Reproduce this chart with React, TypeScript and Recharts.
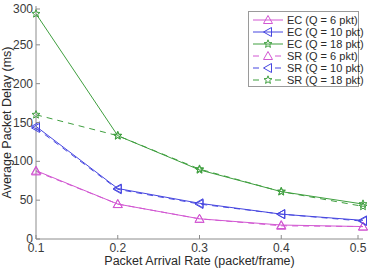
import React from "react";
import { LineChart, Line, XAxis, YAxis } from "recharts";

// arrival rate (packet/frame)
const rates = [0.1, 0.2, 0.3, 0.4, 0.5];
const delayTicks = [0, 50, 100, 150, 200, 250, 300];

// average packet delay (ms)
const ecQ6 = [88, 45, 26, 18, 16];
const ecQ10 = [145, 65, 46, 32, 24];
const ecQ18 = [290, 133, 89, 61, 45];
const srQ6 = [87, 45, 26, 17, 16];
const srQ10 = [143, 64, 45, 32, 23];
const srQ18 = [160, 133, 90, 61, 42];

const MAGENTA = "#d257d2";
const BLUE = "#4646e0";
const GREEN = "#3f9f3f";
const FRAME = "#8c8c8c";
const FONT = "'Liberation Sans', Arial, sans-serif";

type MarkerKind = "up" | "left" | "star";

const series: { key: string; name: string; color: string; marker: MarkerKind; dashed: boolean; values: number[] }[] = [
  { key: "ec6", name: "EC (Q = 6 pkt)", color: MAGENTA, marker: "up", dashed: false, values: ecQ6 },
  { key: "ec10", name: "EC (Q = 10 pkt)", color: BLUE, marker: "left", dashed: false, values: ecQ10 },
  { key: "ec18", name: "EC (Q = 18 pkt)", color: GREEN, marker: "star", dashed: false, values: ecQ18 },
  { key: "sr6", name: "SR (Q = 6 pkt)", color: MAGENTA, marker: "up", dashed: true, values: srQ6 },
  { key: "sr10", name: "SR (Q = 10 pkt)", color: BLUE, marker: "left", dashed: true, values: srQ10 },
  { key: "sr18", name: "SR (Q = 18 pkt)", color: GREEN, marker: "star", dashed: true, values: srQ18 },
];

const rows = rates.map((rate, i) => {
  const row: Record<string, number> = { rate };
  series.forEach((s) => {
    row[s.key] = s.values[i];
  });
  return row;
});

function markerPoints(kind: MarkerKind, cx: number, cy: number): string {
  if (kind === "up") {
    return `${cx},${cy - 4.5} ${cx - 4.5},${cy + 3.5} ${cx + 4.5},${cy + 3.5}`;
  }
  if (kind === "left") {
    return `${cx - 4.5},${cy} ${cx + 3.5},${cy - 4.5} ${cx + 3.5},${cy + 4.5}`;
  }
  const pts: string[] = [];
  for (let k = 0; k < 10; k++) {
    const r = k % 2 === 0 ? 4.2 : 1.8;
    const a = -Math.PI / 2 + (k * Math.PI) / 5;
    pts.push(`${cx + r * Math.cos(a)},${cy + r * Math.sin(a)}`);
  }
  return pts.join(" ");
}

function Marker({ kind, cx, cy, color }: { kind: MarkerKind; cx: number; cy: number; color: string }) {
  return <polygon points={markerPoints(kind, cx, cy)} fill="none" stroke={color} strokeWidth={1} />;
}

function BottomTick(props: any) {
  const { x, y, payload } = props;
  return (
    <g>
      <line x1={x} y1={y} x2={x} y2={y - 4} stroke={FRAME} />
      <text x={x} y={y + 13} textAnchor="middle" fill="#3a3a3a" fontSize={12} fontFamily={FONT}>
        {payload.value.toFixed(1)}
      </text>
    </g>
  );
}

function LeftTick(props: any) {
  const { x, y, payload } = props;
  return (
    <g>
      <line x1={x} y1={y} x2={x + 4} y2={y} stroke={FRAME} />
      <text x={x - 3} y={y + 4} textAnchor="end" fill="#3a3a3a" fontSize={12} fontFamily={FONT}>
        {payload.value}
      </text>
    </g>
  );
}

function LegendBox() {
  return (
    <div
      style={{
        position: "absolute",
        left: 248,
        top: 11,
        width: 111,
        height: 76,
        border: "1px solid #9a9a9a",
        background: "#fff",
        boxSizing: "border-box",
        paddingTop: 2,
      }}
    >
      {series.map((s) => (
        <div key={s.key} style={{ display: "flex", alignItems: "center", height: 12 }}>
          <svg width={38} height={12} style={{ flex: "none" }}>
            <line
              x1={4}
              y1={6}
              x2={34}
              y2={6}
              stroke={s.color}
              strokeWidth={1}
              strokeDasharray={s.dashed ? "6 5" : undefined}
            />
            {s.dashed && <line x1={14} y1={6} x2={24} y2={6} stroke="#fff" strokeWidth={2} />}
            <Marker kind={s.marker} cx={19} cy={6} color={s.color} />
          </svg>
          <span style={{ fontFamily: FONT, fontSize: 11, color: "#2a2a2a", whiteSpace: "nowrap" }}>{s.name}</span>
        </div>
      ))}
    </div>
  );
}

export default function App() {
  return (
    <div style={{ position: "absolute", left: 0, top: 0, width: 368, height: 268, background: "#fff" }}>
      <LineChart width={368} height={268} data={rows} margin={{ top: 6, right: 5, left: 0, bottom: 0 }}>
        <XAxis
          dataKey="rate"
          type="number"
          domain={[0.1, 0.5]}
          ticks={rates}
          height={29}
          tickSize={0}
          tickMargin={0}
          axisLine={{ stroke: FRAME }}
          tick={<BottomTick />}
          label={{
            value: "Packet Arrival Rate (packet/frame)",
            position: "insideBottom",
            offset: 3,
            fill: "#2a2a2a",
            fontSize: 12.5,
            fontFamily: FONT,
          }}
        />
        <XAxis
          xAxisId="top"
          dataKey="rate"
          type="number"
          orientation="top"
          domain={[0.1, 0.5]}
          ticks={rates}
          height={0}
          mirror
          tickSize={4}
          tickFormatter={() => ""}
          axisLine={{ stroke: FRAME }}
          tickLine={{ stroke: FRAME }}
        />
        <YAxis
          type="number"
          domain={[0, 300]}
          ticks={delayTicks}
          width={36}
          tickSize={0}
          tickMargin={0}
          axisLine={{ stroke: FRAME }}
          tick={<LeftTick />}
          label={{
            value: "Average Packet Delay (ms)",
            angle: -90,
            position: "insideLeft",
            offset: 7,
            fill: "#2a2a2a",
            fontSize: 12.5,
            fontFamily: FONT,
            style: { textAnchor: "middle" },
          }}
        />
        <YAxis
          yAxisId="right"
          type="number"
          orientation="right"
          domain={[0, 300]}
          ticks={delayTicks}
          width={0}
          mirror
          tickSize={4}
          tickFormatter={() => ""}
          axisLine={{ stroke: FRAME }}
          tickLine={{ stroke: FRAME }}
        />
        {series.map((s) => (
          <Line
            key={s.key}
            dataKey={s.key}
            name={s.name}
            stroke={s.color}
            strokeWidth={1}
            strokeDasharray={s.dashed ? "6 5" : undefined}
            isAnimationActive={false}
            dot={(p: any) => (
              <Marker key={`${s.key}-${p.index}`} kind={s.marker} cx={p.cx} cy={p.cy} color={s.color} />
            )}
            activeDot={false}
          />
        ))}
      </LineChart>
      <LegendBox />
    </div>
  );
}
